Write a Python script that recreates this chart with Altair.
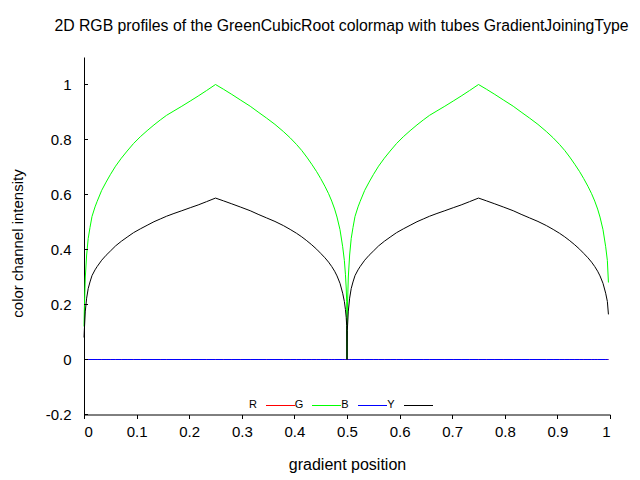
import altair as alt
import pandas as pd

# gradient positions (two tubes)
x_pos = [
    0.0000, 0.0006, 0.0025, 0.0050, 0.0080, 0.0114, 0.0152, 0.0210, 0.0250, 0.0336,
    0.0420, 0.0500, 0.0600, 0.0710, 0.0820, 0.0940, 0.1070, 0.1200, 0.1330, 0.1450,
    0.1570, 0.1710, 0.1860, 0.2020, 0.2170, 0.2330, 0.2500, 0.2650, 0.2810, 0.2980,
    0.3160, 0.3310, 0.3470, 0.3630, 0.3790, 0.3920, 0.4040, 0.4140, 0.4235, 0.4330,
    0.4423, 0.4500, 0.4580, 0.4650, 0.4710, 0.4765, 0.4810, 0.4867, 0.4918, 0.4950,
    0.4970, 0.4985, 0.4994,
    0.5000, 0.5006, 0.5025, 0.5050, 0.5080, 0.5114, 0.5152, 0.5210, 0.5250, 0.5336,
    0.5420, 0.5500, 0.5600, 0.5710, 0.5820, 0.5940, 0.6070, 0.6200, 0.6330, 0.6450,
    0.6570, 0.6710, 0.6860, 0.7020, 0.7170, 0.7330, 0.7500, 0.7650, 0.7810, 0.7980,
    0.8160, 0.8310, 0.8470, 0.8630, 0.8790, 0.8920, 0.9040, 0.9140, 0.9235, 0.9330,
    0.9423, 0.9500, 0.9580, 0.9650, 0.9710, 0.9765, 0.9810, 0.9867, 0.9918, 0.9950,
    0.9970,
]

green = [
    0.120, 0.180, 0.300, 0.380, 0.440, 0.480, 0.520, 0.555, 0.575, 0.615,
    0.645, 0.672, 0.703, 0.732, 0.758, 0.785, 0.810, 0.832, 0.853, 0.871,
    0.888, 0.904, 0.921, 0.940, 0.958, 0.978, 1.000, 0.983, 0.964, 0.943,
    0.921, 0.900, 0.878, 0.855, 0.829, 0.806, 0.782, 0.760, 0.736, 0.710,
    0.683, 0.658, 0.630, 0.603, 0.576, 0.547, 0.518, 0.472, 0.410, 0.360,
    0.310, 0.260, 0.210,
    0.000, 0.180, 0.300, 0.380, 0.440, 0.480, 0.520, 0.555, 0.575, 0.615,
    0.645, 0.672, 0.703, 0.732, 0.758, 0.785, 0.810, 0.832, 0.853, 0.871,
    0.888, 0.904, 0.921, 0.940, 0.958, 0.978, 1.000, 0.983, 0.964, 0.943,
    0.921, 0.900, 0.878, 0.855, 0.829, 0.806, 0.782, 0.760, 0.736, 0.710,
    0.683, 0.658, 0.630, 0.603, 0.576, 0.547, 0.518, 0.472, 0.410, 0.360,
    0.280,
]

luminance = [
    0.080, 0.106, 0.176, 0.223, 0.258, 0.282, 0.305, 0.326, 0.338, 0.361,
    0.379, 0.394, 0.413, 0.430, 0.445, 0.461, 0.475, 0.488, 0.501, 0.511,
    0.521, 0.531, 0.541, 0.552, 0.562, 0.574, 0.587, 0.577, 0.566, 0.554,
    0.541, 0.528, 0.515, 0.502, 0.487, 0.473, 0.459, 0.446, 0.432, 0.417,
    0.401, 0.386, 0.370, 0.354, 0.338, 0.321, 0.304, 0.277, 0.241, 0.211,
    0.182, 0.153, 0.123,
    0.000, 0.106, 0.176, 0.223, 0.258, 0.282, 0.305, 0.326, 0.338, 0.361,
    0.379, 0.394, 0.413, 0.430, 0.445, 0.461, 0.475, 0.488, 0.501, 0.511,
    0.521, 0.531, 0.541, 0.552, 0.562, 0.574, 0.587, 0.577, 0.566, 0.554,
    0.541, 0.528, 0.515, 0.502, 0.487, 0.473, 0.459, 0.446, 0.432, 0.417,
    0.401, 0.386, 0.370, 0.354, 0.338, 0.321, 0.304, 0.277, 0.241, 0.211,
    0.164,
]

red = [0.0] * len(x_pos)
blue = [0.0] * len(x_pos)

series_names = ["R", "G", "B", "Y"]
series_colors = ["#ff0000", "#00ff00", "#0000ff", "#000000"]
series_values = [red, green, blue, luminance]

y_tick_values = [-0.2, 0.0, 0.2, 0.4, 0.6, 0.8, 1.0]
x_tick_values = [0.0, 0.1, 0.2, 0.3, 0.4, 0.5, 0.6, 0.7, 0.8, 0.9, 1.0]

FONT = "Liberation Sans"
W, H = 526, 357.5

x_scale = alt.Scale(domain=[0, 1], nice=False, zero=False)
y_scale = alt.Scale(domain=[-0.2, 1.1], nice=False, zero=False)

x_axis = alt.Axis(
    values=x_tick_values, format=".1~f", title="gradient position",
    tickSize=4, labelPadding=6, titlePadding=17, grid=False,
    labelFontSize=15, titleFontSize=16,
)
y_axis = alt.Axis(
    values=y_tick_values, title="color channel intensity",
    labelExpr="datum.value < 0 ? '-' + format(-datum.value, '.1~f') : format(datum.value, '.1~f')",
    ticks=False, tickSize=0, labelPadding=13, grid=False,
    labelFontSize=15, titleFontSize=15,
    titleAngle=270, titleBaseline="middle", titleAlign="center",
    titleX=-67, titleY=186,
)

x_enc = alt.X("x:Q", scale=x_scale, axis=x_axis)
y_enc = alt.Y("v:Q", scale=y_scale, axis=y_axis)

layers = []
for name, color, vals in zip(series_names, series_colors, series_values):
    df = pd.DataFrame({"x": x_pos, "v": vals})
    layers.append(
        alt.Chart(df).mark_line(color=color, strokeWidth=1).encode(x=x_enc, y=y_enc)
    )

# inward y-axis ticks
ytick_df = pd.DataFrame({"v": y_tick_values})
yticks = alt.Chart(ytick_df).mark_rule(color="black", strokeWidth=1).encode(
    y=y_enc, x=alt.value(0), x2=alt.value(4),
)

# in-plot legend: label followed by a line sample (pixel layout)
one_row = pd.DataFrame({"k": [0]})
legend_layers = []
for i, (name, color) in enumerate(zip(series_names, series_colors)):
    lx = 169 + 46 * i
    legend_layers.append(
        alt.Chart(one_row).mark_text(
            text=name, font=FONT, fontSize=11, align="center", baseline="middle", color="black"
        ).encode(x=alt.value(lx), y=alt.value(348))
    )
    legend_layers.append(
        alt.Chart(one_row).mark_rule(color=color, strokeWidth=1).encode(
            x=alt.value(lx + 13), x2=alt.value(lx + 42), y=alt.value(348.5)
        )
    )

chart = alt.layer(*layers, yticks, *legend_layers).properties(
    width=W,
    height=H,
    autosize=alt.AutoSizeParams(type="none"),
    padding={"left": 76, "top": 49, "right": 22, "bottom": 65.5},
    title=alt.TitleParams(
        "2D RGB profiles of the GreenCubicRoot colormap with tubes GradientJoiningType",
        font=FONT, fontSize=15.8, fontWeight="normal", color="black",
        anchor="middle", offset=22, dx=-5.5, baseline="top",
    ),
).configure_view(stroke=None).configure_axis(
    domainColor="black", tickColor="black", labelColor="black", titleColor="black",
    labelFont=FONT, titleFont=FONT,
    titleFontWeight="normal", domainWidth=1, tickWidth=1,
)

chart.save("out.html", embed_options={"renderer": "svg", "actions": False})
